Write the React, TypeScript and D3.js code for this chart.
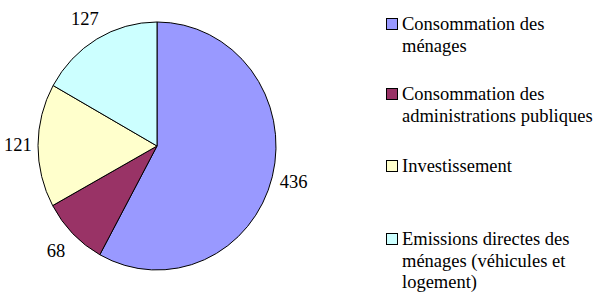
import * as d3 from "d3";

const categories = [
  "Consommation des ménages",
  "Consommation des administrations publiques",
  "Investissement",
  "Emissions directes des ménages (véhicules et logement)",
];
const values = [436, 68, 121, 127];
// legend text broken in lines as on the picture
const legendLines = [
  ["Consommation des", "ménages"],
  ["Consommation des", "administrations publiques"],
  ["Investissement"],
  ["Emissions directes des", "ménages (véhicules et", "logement)"],
];
const colors = ["#9999FF", "#993366", "#FFFFCC", "#CCFFFF"];

type Slice = { name: string; value: number; color: string };

const W = 598;
const H = 294;
const cx = 157;
const cy = 146;
const rx = 119;
const ry = 124;

const textStyle = {
  fontFamily: '"Liberation Serif", "DejaVu Serif", "Times New Roman", serif',
  fontSize: "18.5px",
};

const PieChart = () => {
  const data: Slice[] = categories.map((c, i) => ({
    name: c,
    value: values[i],
    color: colors[i],
  }));
  const angles = d3.pie<Slice>().value((d) => d.value).sort(null)(data);
  const arcGen = d3.arc<d3.PieArcDatum<Slice>>().innerRadius(0).outerRadius(rx);

  const legendBaselines = [30, 100, 172, 245];
  const lineH = 21.5;

  return (
    <svg
      width={W}
      height={H}
      style={{ position: "absolute", left: 0, top: 0, background: "#fff" }}
    >
      <g transform={`translate(${cx}, ${cy}) scale(1, ${ry / rx})`}>
        {angles.map((a, i) => (
          <path
            key={i}
            d={arcGen(a) ?? ""}
            fill={a.data.color}
            stroke="#000"
            strokeWidth={1}
            vectorEffect="non-scaling-stroke"
          />
        ))}
      </g>
      {angles.map((a, i) => {
        const mid = (a.startAngle + a.endAngle) / 2;
        // push diagonal labels a little further out
        const d = 20 + 4 * Math.abs(Math.sin(2 * mid));
        const x = cx + (rx + d) * Math.sin(mid);
        const y = cy - (ry + d) * Math.cos(mid);
        return (
          <text
            key={i}
            x={x}
            y={y + 6}
            textAnchor="middle"
            style={textStyle}
            fill="#000"
          >
            {a.data.value}
          </text>
        );
      })}
      {legendLines.map((lines, i) => (
        <g key={i}>
          <rect
            x={386.5}
            y={legendBaselines[i] - 11.5}
            width={11}
            height={11}
            fill={colors[i]}
            stroke="#000"
            strokeWidth={1}
          />
          {lines.map((t, j) => (
            <text
              key={j}
              x={402}
              y={legendBaselines[i] + j * lineH}
              style={textStyle}
              fill="#000"
            >
              {t}
            </text>
          ))}
        </g>
      ))}
    </svg>
  );
};

export default function App() {
  return <PieChart />;
}
